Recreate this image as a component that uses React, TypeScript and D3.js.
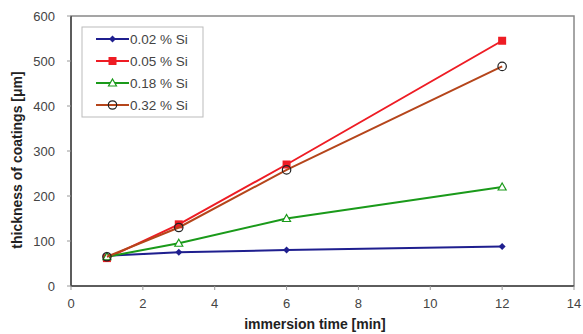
import React from "react";
import * as d3 from "d3";

const times = [1, 3, 6, 12];
const seriesNames = ["0.02 % Si", "0.05 % Si", "0.18 % Si", "0.32 % Si"];
const si002 = [67, 75, 80, 88];
const si005 = [62, 137, 270, 545];
const si018 = [65, 95, 150, 220];
const si032 = [65, 130, 258, 488];
const xTicks = [0, 2, 4, 6, 8, 10, 12, 14];
const yTicks = [0, 100, 200, 300, 400, 500, 600];

const colors = ["#1f1f8f", "#ee1c24", "#1a9a1a", "#b5451b"];
const markers = ["diamond", "square", "triangle", "circle"];

export default function App() {
  const W = 583, H = 334;
  const L = 71, R = 574, T = 16, B = 286;
  const x = d3.scaleLinear().domain([0, 14]).range([L, R]);
  const y = d3.scaleLinear().domain([0, 600]).range([B, T]);
  const all = [si002, si005, si018, si032];
  const line = d3.line<number>().x((_, i) => x(times[i])).y((d) => y(d));

  const marker = (type: string, cx: number, cy: number, c: string, key: any) => {
    if (type === "diamond")
      return <path key={key} d={`M${cx},${cy - 3.5}L${cx + 3.5},${cy}L${cx},${cy + 3.5}L${cx - 3.5},${cy}Z`} fill={c} />;
    if (type === "square")
      return <rect key={key} x={cx - 4} y={cy - 4} width={8} height={8} fill={c} />;
    if (type === "triangle")
      return <path key={key} d={`M${cx},${cy - 4}L${cx + 4},${cy + 3}L${cx - 4},${cy + 3}Z`} fill="#fff" stroke={c} strokeWidth={1.2} />;
    return <circle key={key} cx={cx} cy={cy} r={4.2} fill="none" stroke="#222" strokeWidth={1.2} />;
  };

  const font = "Liberation Sans, Arial, sans-serif";
  return (
    <svg width={W} height={H} style={{ position: "absolute", left: 0, top: 0 }} fontFamily={font}>
      <rect x={0} y={0} width={W} height={H} fill="#fff" />
      <rect x={L} y={T} width={R - L} height={B - T} fill="#fff" stroke="#888" strokeWidth={1.5} />
      <line x1={L} x2={L} y1={T} y2={B} stroke="#444" strokeWidth={1.5} />
      <line x1={L} x2={R} y1={B} y2={B} stroke="#444" strokeWidth={1.5} />
      {xTicks.map((t) => (
        <g key={"x" + t}>
          <line x1={x(t)} x2={x(t)} y1={B} y2={B + 4} stroke="#999" />
          <text x={x(t)} y={B + 22} textAnchor="middle" fontSize={13} fill="#444">{t}</text>
        </g>
      ))}
      {yTicks.map((t) => (
        <g key={"y" + t}>
          <line x1={L - 4} x2={L} y1={y(t)} y2={y(t)} stroke="#999" />
          <text x={L - 16} y={y(t) + 4.5} textAnchor="end" fontSize={13} fill="#444">{t}</text>
        </g>
      ))}
      <text x={315} y={329} textAnchor="middle" fontSize={14} fontWeight="bold" fill="#222">immersion time [min]</text>
      <text transform={`translate(22,160) rotate(-90)`} textAnchor="middle" fontSize={14} fontWeight="bold" fill="#222">thickness of coatings [μm]</text>
      {all.map((s, k) => (
        <g key={"s" + k}>
          <path d={line(s) || ""} fill="none" stroke={colors[k]} strokeWidth={2} />
          {s.map((v, i) => marker(markers[k], x(times[i]), y(v), colors[k], i))}
        </g>
      ))}
      <rect x={82} y={27} width={121} height={90} fill="#fff" stroke="#bbb" strokeWidth={1} />
      {seriesNames.map((n, k) => {
        const ly = 39 + k * 22;
        return (
          <g key={"l" + k}>
            <line x1={96} x2={129} y1={ly} y2={ly} stroke={colors[k]} strokeWidth={2} />
            {marker(markers[k], 112.5, ly, colors[k], "m")}
            <text x={130} y={ly + 5} fontSize={13.5} fill="#444">{n}</text>
          </g>
        );
      })}
    </svg>
  );
}
